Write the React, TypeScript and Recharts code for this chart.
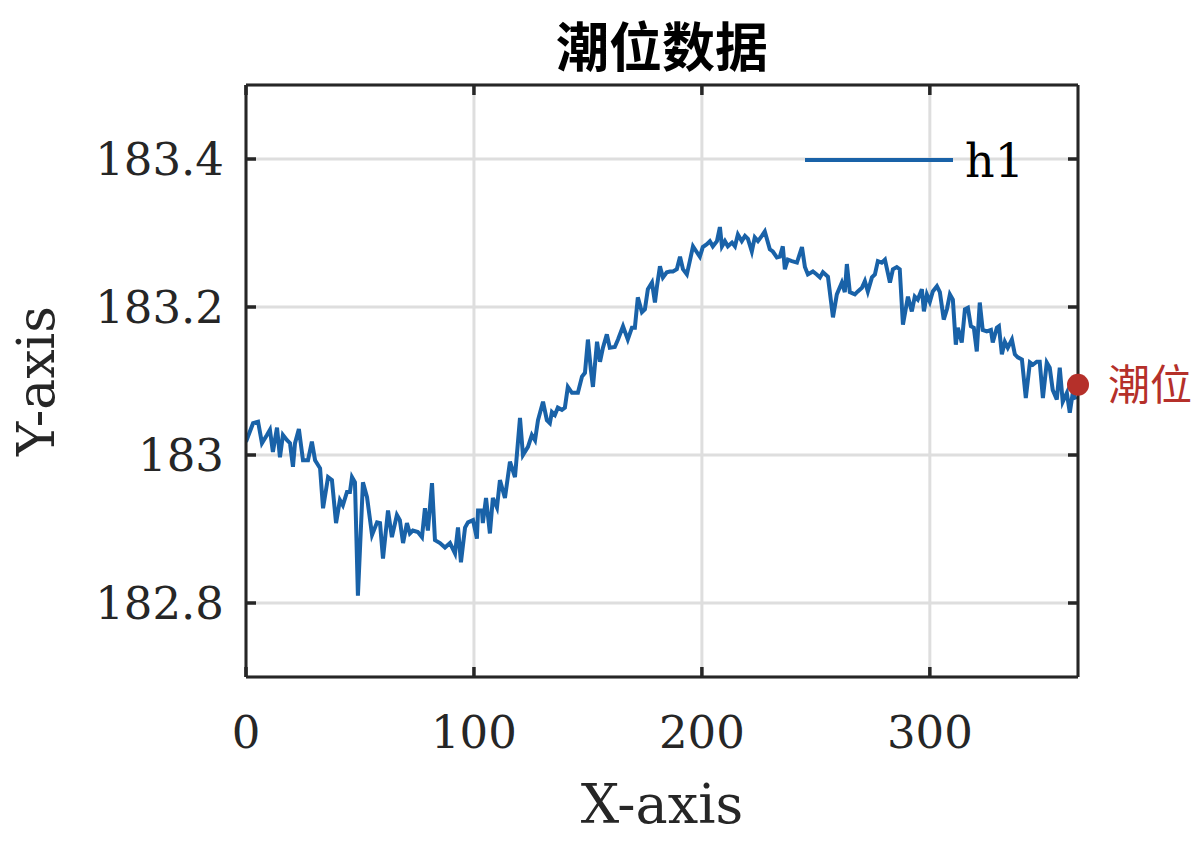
import { LineChart, Line, XAxis, YAxis, CartesianGrid, ReferenceDot, Customized } from "recharts";

const days = [
  0, 3.1, 5.3, 7.0, 9.2, 10.5, 11.8, 13.6, 14.9, 16.2, 18.0, 19.3, 20.6, 21.5, 23.2, 25.0, 27.2, 28.9, 30.3, 32.5,
  33.8, 36.0, 37.7, 39.5, 41.2, 42.5, 44.3, 45.6, 46.5, 47.8, 49.1, 51.3, 53.1, 55.3, 57.5, 58.8, 60.1, 62.3, 64.0, 66.2,
  67.5, 68.9, 70.6, 71.9, 73.2, 75.4, 77.2, 78.5, 79.8, 81.6, 82.9, 85.1, 87.3, 89.5, 91.7, 93.0, 94.3, 96.1, 97.4, 99.6,
  101.3, 101.8, 103.5, 103.9, 105.3, 107.0, 108.3, 110.1, 111.4, 113.6, 115.8, 118.0, 120.2, 121.5, 123.7, 125.4, 126.8, 128.1, 130.3, 132.0,
  133.3, 134.2, 135.5, 136.8, 138.6, 139.9, 141.2, 143.0, 144.3, 145.6, 147.4, 148.7, 150.0, 151.3, 152.2, 154.0, 155.3, 156.6, 158.3, 159.6,
  161.8, 163.2, 165.4, 167.5, 169.3, 170.6, 171.9, 173.7, 175.0, 176.3, 178.1, 179.4, 180.3, 181.6, 182.9, 184.6, 186.0, 187.3, 189.0, 190.4,
  191.7, 193.4, 194.7, 196.1, 197.8, 199.1, 200.4, 202.2, 203.5, 204.8, 206.6, 207.9, 208.8, 210.1, 211.4, 213.2, 214.5, 215.8, 217.5, 218.9,
  220.2, 221.9, 223.2, 224.6, 226.3, 227.6, 229.8, 231.1, 232.9, 234.2, 235.5, 236.4, 237.7, 239.5, 241.7, 243.9, 245.2, 246.5, 248.7, 250.4,
  251.8, 253.1, 255.3, 257.5, 259.2, 261.4, 262.7, 263.6, 264.9, 267.1, 268.4, 270.2, 271.5, 272.8, 274.6, 275.9, 277.2, 278.9, 280.3, 282.5,
  283.8, 285.5, 286.8, 288.2, 290.4, 292.1, 293.4, 294.7, 296.5, 297.4, 298.7, 300.0, 301.3, 303.1, 304.4, 306.1, 307.5, 308.8, 310.1, 311.4,
  312.3, 314.0, 315.4, 316.7, 318.0, 319.3, 320.6, 321.9, 323.2, 325.0, 326.8, 327.6, 329.4, 330.3, 331.6, 332.9, 334.2, 336.0, 337.3, 338.6,
  340.4, 342.1, 343.9, 345.2, 346.9, 348.2, 349.6, 351.3, 352.6, 353.9, 355.7, 357.0, 358.3, 360.1, 361.4, 362.7, 364.0,
];

const levels = [
  183.018, 183.043, 183.045, 183.016, 183.027, 183.034, 183.004, 183.037, 182.997, 183.027, 183.02, 183.016, 182.984, 183.016, 183.035, 182.993, 182.993, 183.018, 182.993, 182.982,
  182.928, 182.97, 182.966, 182.908, 182.939, 182.932, 182.95, 182.95, 182.97, 182.963, 182.81, 182.963, 182.943, 182.892, 182.909, 182.908, 182.86, 182.925, 182.889, 182.919,
  182.912, 182.881, 182.908, 182.894, 182.898, 182.896, 182.889, 182.928, 182.898, 182.962, 182.885, 182.881, 182.875, 182.881, 182.867, 182.902, 182.855, 182.902, 182.909, 182.912,
  182.887, 182.925, 182.925, 182.908, 182.942, 182.894, 182.942, 182.929, 182.966, 182.942, 182.991, 182.97, 183.05, 183.0, 183.011, 183.027, 183.02, 183.047, 183.072, 183.047,
  183.043, 183.058, 183.054, 183.064, 183.061, 183.064, 183.092, 183.084, 183.084, 183.084, 183.106, 183.111, 183.156, 183.115, 183.092, 183.153, 183.126, 183.145, 183.163, 183.145,
  183.146, 183.156, 183.174, 183.156, 183.172, 183.172, 183.213, 183.193, 183.197, 183.224, 183.233, 183.206, 183.228, 183.255, 183.24, 183.247, 183.248, 183.248, 183.251, 183.268,
  183.251, 183.244, 183.262, 183.282, 183.274, 183.268, 183.281, 183.285, 183.289, 183.282, 183.289, 183.308, 183.282, 183.289, 183.282, 183.287, 183.282, 183.298, 183.289, 183.296,
  183.292, 183.275, 183.294, 183.289, 183.296, 183.302, 183.278, 183.275, 183.267, 183.268, 183.282, 183.251, 183.264, 183.262, 183.26, 183.281, 183.254, 183.244, 183.248, 183.244,
  183.24, 183.247, 183.241, 183.186, 183.217, 183.233, 183.22, 183.258, 183.22, 183.217, 183.221, 183.226, 183.235, 183.221, 183.24, 183.244, 183.262, 183.26, 183.264, 183.233,
  183.251, 183.254, 183.251, 183.176, 183.214, 183.194, 183.214, 183.21, 183.224, 183.194, 183.217, 183.207, 183.221, 183.228, 183.22, 183.183, 183.197, 183.217, 183.21, 183.149,
  183.172, 183.152, 183.197, 183.199, 183.174, 183.172, 183.14, 183.206, 183.169, 183.167, 183.169, 183.152, 183.172, 183.174, 183.136, 183.153, 183.145, 183.156, 183.136, 183.132,
  183.129, 183.077, 183.125, 183.122, 183.126, 183.126, 183.077, 183.125, 183.118, 183.088, 183.075, 183.118, 183.072, 183.084, 183.057, 183.084, 183.075,
];

const xTicks = [0, 100, 200, 300];
const yTicks = [182.8, 183, 183.2, 183.4];
const xDomain = [0, 365];
const yDomain = [182.7, 183.5];
const marker = { day: 365, level: 183.095, label: "潮位数据" };
const seriesName = "h1";
const title = "潮位数据";

const data = days.map((d, i) => ({ day: d, level: levels[i] }));

const SERIF = "'DejaVu Serif', serif";
const CJK = "'Noto Sans CJK SC', sans-serif";
const LINE_COLOR = "#1962a8";
const AXIS_COLOR = "#262626";
const TICK_LEN = 10;
const TICK_W = 3.5;
const FONT = 45;

// ticks point inward like matlab, so each tick draws its own mark
function BottomTick(p: any) {
  return (
    <g>
      <line x1={p.x} x2={p.x} y1={p.y - 38} y2={p.y - 38 - TICK_LEN} stroke={AXIS_COLOR} strokeWidth={TICK_W} />
      <text x={p.x} y={p.y} dy="0.73em" textAnchor="middle" fontFamily={SERIF} fontSize={FONT} fill={AXIS_COLOR}>
        {p.payload.value}
      </text>
    </g>
  );
}

function LeftTick(p: any) {
  return (
    <g>
      <line x1={p.x + 22} x2={p.x + 22 + TICK_LEN} y1={p.y} y2={p.y} stroke={AXIS_COLOR} strokeWidth={TICK_W} />
      <text x={p.x} y={p.y} dy="0.36em" textAnchor="end" fontFamily={SERIF} fontSize={FONT} fill={AXIS_COLOR}>
        {p.payload.value}
      </text>
    </g>
  );
}

function TopTick(p: any) {
  return <line x1={p.x} x2={p.x} y1={p.y} y2={p.y + TICK_LEN} stroke={AXIS_COLOR} strokeWidth={TICK_W} />;
}

function RightTick(p: any) {
  return <line x1={p.x} x2={p.x - TICK_LEN} y1={p.y} y2={p.y} stroke={AXIS_COLOR} strokeWidth={TICK_W} />;
}

// title and legend drawn as plain svg so they do not take layout space
function Overlay() {
  return (
    <g>
      <text x={662} y={67} textAnchor="middle" fontFamily={CJK} fontWeight="bold" fontSize={53} fill="#000">
        {title}
      </text>
      <line x1={805} x2={953} y1={160} y2={160} stroke={LINE_COLOR} strokeWidth={4} />
      <text x={965} y={177} fontFamily={SERIF} fontSize={46} fill="#000">
        {seriesName}
      </text>
    </g>
  );
}

export default function App() {
  const axisLine = { stroke: AXIS_COLOR, strokeWidth: 3 };
  return (
    <div style={{ position: "absolute", left: 0, top: 0, background: "#fff" }}>
      <LineChart width={1192} height={841} data={data} margin={{ top: 84, right: 113, bottom: 0, left: 0 }}>
        <CartesianGrid stroke="#dedede" strokeWidth={3} />
        <XAxis
          dataKey="day"
          type="number"
          domain={xDomain}
          ticks={xTicks}
          allowDataOverflow
          height={164}
          tickSize={0}
          tickMargin={38}
          tick={BottomTick}
          tickLine={false}
          axisLine={axisLine}
          label={{ value: "X-axis", position: "insideBottom", offset: 18, fontSize: 54, fill: AXIS_COLOR, fontFamily: SERIF }}
        />
        {/* top and right axes only close the box (size 1 so they get drawn) */}
        <XAxis
          xAxisId="top"
          dataKey="day"
          orientation="top"
          type="number"
          domain={xDomain}
          ticks={xTicks}
          allowDataOverflow
          height={1}
          tickSize={0}
          tickMargin={0}
          tick={TopTick}
          tickLine={false}
          axisLine={axisLine}
        />
        <YAxis
          type="number"
          domain={yDomain}
          ticks={yTicks}
          allowDataOverflow
          width={246}
          tickSize={0}
          tickMargin={22}
          tick={LeftTick}
          tickLine={false}
          axisLine={axisLine}
          label={{
            value: "Y-axis",
            angle: -90,
            position: "insideLeft",
            offset: 36,
            fontSize: 52,
            fill: AXIS_COLOR,
            fontFamily: SERIF,
            style: { textAnchor: "middle" },
          }}
        />
        <YAxis
          yAxisId="right"
          orientation="right"
          type="number"
          domain={yDomain}
          ticks={yTicks}
          allowDataOverflow
          width={1}
          tickSize={0}
          tickMargin={0}
          tick={RightTick}
          tickLine={false}
          axisLine={axisLine}
        />
        <Line
          xAxisId="top"
          yAxisId="right"
          dataKey="level"
          stroke="none"
          dot={false}
          activeDot={false}
          legendType="none"
          isAnimationActive={false}
        />
        <Line
          dataKey="level"
          name={seriesName}
          type="linear"
          stroke={LINE_COLOR}
          strokeWidth={4}
          dot={false}
          isAnimationActive={false}
        />
        <ReferenceDot
          x={marker.day}
          y={marker.level}
          r={11}
          fill="#b5302a"
          stroke="none"
          ifOverflow="visible"
          label={{ value: marker.label, position: "right", offset: 19, fontSize: 42, fill: "#b5302a", fontFamily: CJK }}
        />
        <Customized component={Overlay} />
      </LineChart>
    </div>
  );
}
